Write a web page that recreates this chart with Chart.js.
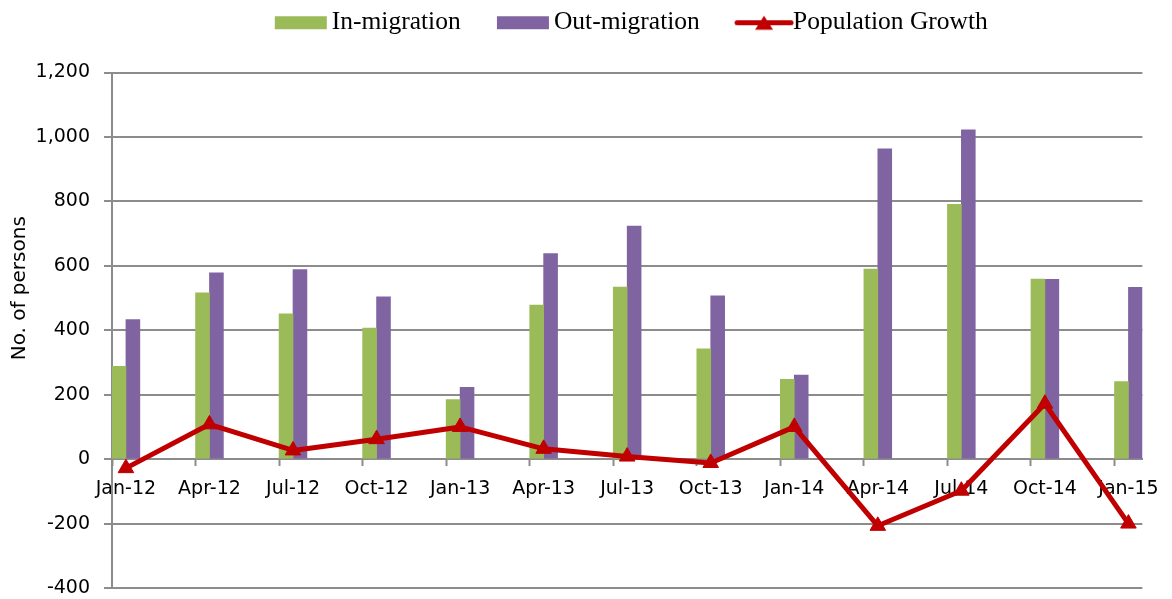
<!DOCTYPE html>
<html>
<head>
<meta charset="utf-8">
<script src="https://cdn.jsdelivr.net/npm/chart.js@4.4.1/dist/chart.umd.min.js"></script>
<style>
html,body{margin:0;padding:0;background:#fff;}
#wrap{width:1172px;height:599px;position:relative;}
</style>
</head>
<body>
<div id="wrap"><canvas id="c"></canvas></div>
<script>
// ---- data ----
const quarterLabels = ['Jan-12','Apr-12','Jul-12','Oct-12','Jan-13','Apr-13','Jul-13','Oct-13','Jan-14','Apr-14','Jul-14','Oct-14','Jan-15'];
const inMigration  = [288, 516, 451, 407, 185, 478, 534, 342, 248, 590, 791, 559, 241];
const outMigration = [433, 578, 588, 504, 223, 638, 723, 507, 261, 963, 1022, 558, 533];
const populationGrowth = [-28, 108, 27, 62, 100, 32, 8, -12, 100, -207, -98, 172, -200];
const seriesNames = ['In-migration', 'Out-migration', 'Population Growth'];
const yMin = -400, yMax = 1200, yStep = 200;
const monthsPerQuarter = 3;

// ---- styling ----
const GREEN = '#9BBB59', PURPLE = '#8064A2', RED = '#C00000', GRID = '#8c8c8c';
const TITLE_SHIFT = -42;
const LEGEND_SHIFT = -10;

// monthly (date-axis style) category list: quarter values sit every 3rd month
function toMonthly(arr, filler) {
  const out = [];
  arr.forEach((v, i) => {
    out.push(v);
    if (i < arr.length - 1) for (let k = 1; k < monthsPerQuarter; k++) out.push(filler);
  });
  return out;
}
const monthLabels = toMonthly(quarterLabels, '');

function makeIcon(draw) {
  const c = document.createElement('canvas');
  c.width = 100; c.height = 17;
  draw(c.getContext('2d'));
  return c;
}
const icons = [
  makeIcon(g => { g.fillStyle = GREEN; g.fillRect(42, 2, 52, 13); }),
  makeIcon(g => { g.fillStyle = PURPLE; g.fillRect(42, 2, 52, 13); }),
  makeIcon(g => {
    g.strokeStyle = RED; g.lineWidth = 5; g.lineCap = 'round';
    g.beginPath(); g.moveTo(43, 8.5); g.lineTo(97, 8.5); g.stroke();
    g.fillStyle = RED; g.beginPath();
    g.moveTo(70, 1.5); g.lineTo(79, 15.5); g.lineTo(61, 15.5); g.closePath(); g.fill();
  })
];

const tweaks = {
  id: 'tweaks',
  beforeLayout(chart) {
    const lg = chart.legend;
    if (lg && !lg._patched) {
      const fit = lg.fit;
      lg.fit = function () { fit.call(this); this.height += 27; };
      lg._patched = true;
    }
  },
  afterUpdate(chart) {
    const lg = chart.legend;
    if (lg) { lg.left += LEGEND_SHIFT; lg.right += LEGEND_SHIFT; }
  },
  beforeDraw(chart) {
    const s = chart.scales.y;
    if (s && !s._shifted) {
      const orig = s.drawTitle;
      s.drawTitle = function () {
        const ctx = this.ctx;
        ctx.save(); ctx.translate(0, TITLE_SHIFT); orig.call(this); ctx.restore();
      };
      s._shifted = true;
    }
  }
};

new Chart(document.getElementById('c'), {
  data: {
    labels: monthLabels,
    datasets: [
      { type: 'bar', label: seriesNames[0], data: toMonthly(inMigration, null),
        backgroundColor: GREEN, borderWidth: 0, order: 1,
        barPercentage: 1, categoryPercentage: 1 },
      { type: 'bar', label: seriesNames[1], data: toMonthly(outMigration, null),
        backgroundColor: PURPLE, borderWidth: 0, order: 1,
        barPercentage: 1, categoryPercentage: 1 },
      { type: 'line', label: seriesNames[2], data: toMonthly(populationGrowth, null),
        spanGaps: true, borderColor: RED, borderWidth: 5, borderJoinStyle: 'round',
        tension: 0, pointStyle: 'triangle', pointRadius: 9, pointHoverRadius: 9,
        pointBackgroundColor: RED, pointBorderColor: RED, pointBorderWidth: 1,
        order: 0 }
    ]
  },
  options: {
    responsive: true,
    maintainAspectRatio: false,
    animation: false,
    layout: { padding: { left: 0, right: 29, top: 2, bottom: 11 } },
    plugins: {
      tooltip: { enabled: false },
      legend: {
        position: 'top',
        fullSize: false,
        labels: {
          usePointStyle: true,
          pointStyleWidth: 72.5,
          padding: 8,
          color: '#000',
          font: { family: 'Liberation Serif', size: 25.5 },
          generateLabels(chart) {
            const items = Chart.defaults.plugins.legend.labels.generateLabels(chart);
            items.sort((a, b) => a.datasetIndex - b.datasetIndex);
            items.forEach(it => { it.pointStyle = icons[it.datasetIndex]; it.fontColor = '#000'; });
            return items;
          }
        }
      }
    },
    scales: {
      x: {
        type: 'category',
        position: { y: 0 },
        offset: true,
        grid: {
          offset: true,
          drawOnChartArea: false,
          drawTicks: true,
          tickLength: 6,
          tickWidth: 2,
          tickColor: (c) => (c.index !== undefined && c.index % monthsPerQuarter === 0) ? GRID : 'rgba(0,0,0,0)'
        },
        border: { display: true, color: GRID, width: 2 },
        ticks: {
          autoSkip: false, maxRotation: 0, minRotation: 0, padding: 13,
          color: '#000', font: { family: 'DejaVu Sans', size: 19 }
        }
      },
      y: {
        min: yMin, max: yMax,
        ticks: { stepSize: yStep, padding: 14, color: '#000', font: { family: 'DejaVu Sans', size: 19 } },
        grid: { color: GRID, lineWidth: 2, tickLength: 8, drawTicks: true },
        border: { display: true, color: GRID, width: 2 },
        title: { display: true, text: 'No. of persons', color: '#000',
                 font: { family: 'DejaVu Sans', size: 20 }, padding: { top: 7.5, bottom: 0 } },
        afterFit(s) { s.width = 112; s.paddingTop = 0; s.paddingBottom = 0; }
      }
    }
  },
  plugins: [tweaks]
});
</script>
</body>
</html>
